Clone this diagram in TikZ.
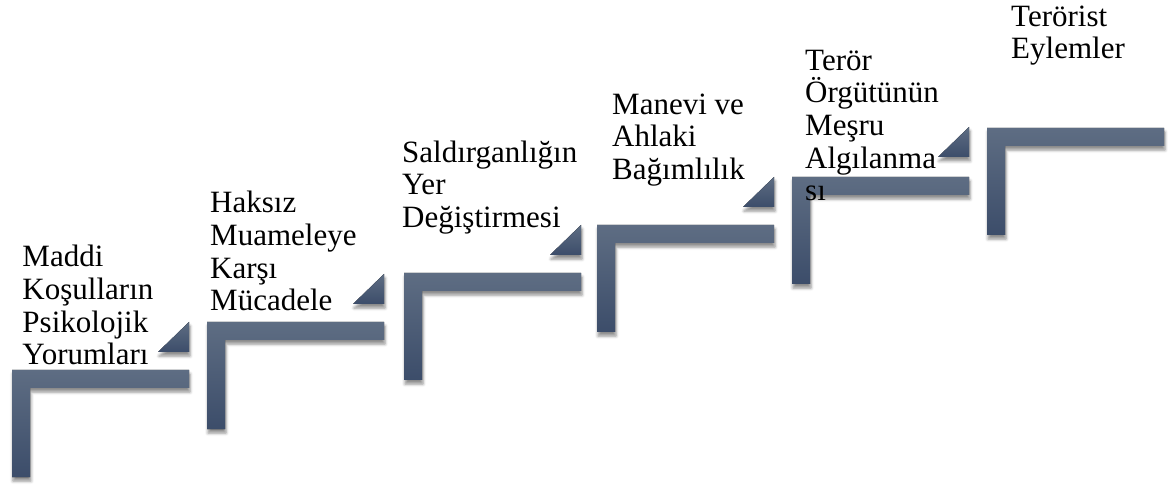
\documentclass[tikz,border=0pt]{standalone}
\usepackage{fontspec}
\setmainfont{Liberation Serif}
\newfontfamily\lblfont{Liberation Serif}
\usetikzlibrary{shadows.blur}
\definecolor{stepTop}{HTML}{5E6D83}
\definecolor{stepBot}{HTML}{3C4D6A}
\begin{document}
\begin{tikzpicture}[x=1pt,y=-1pt,
  stepshape/.style={top color=stepTop, bottom color=stepBot, draw=none,
    blur shadow={shadow xshift=1pt, shadow yshift=-4pt, shadow blur radius=3pt, shadow opacity=45}},
  lbl/.style={anchor=base west, inner sep=0pt, align=left, font=\lblfont\fontsize{31pt}{32.7pt}\selectfont}]
\useasboundingbox (0,0) rectangle (1168,486);
% L-shaped steps
\foreach \x/\t in {12/370, 207/322, 404/273, 597/225, 792/177, 987/128} {
  \fill[stepshape] (\x,\t) -- ++(177,0) -- ++(0,18) -- ++(-159,0) -- ++(0,89) -- ++(-18,0) -- cycle;
}
% small triangles
\foreach \x/\t in {12/370, 207/322, 404/273, 597/225, 792/175} {
  \fill[stepshape] (\x+146,\t-18) -- (\x+177,\t-18) -- (\x+177,\t-48) -- cycle;
}
% labels (anchored at the baseline of the last line)
\node[lbl] (t1) at (22.3,365) {Maddi\\Koşulların\\Psikolojik\\Yorumları};
\node[lbl] (t2) at (210,311) {Haksız\\Muameleye\\Karşı\\Mücadele};
\node[lbl] (t3) at (402,227.5) {Saldırganlığın\\Yer\\Değiştirmesi};
\node[lbl] (t4) at (612,179.5) {Manevi ve\\Ahlaki\\Bağımlılık};
\node[lbl] (t5) at (805,201) {Terör\\Örgütünün\\Meşru\\Algılanma\\sı};
\node[lbl] (t6) at (1011,59) {Terörist\\Eylemler};
\end{tikzpicture}
\end{document}
